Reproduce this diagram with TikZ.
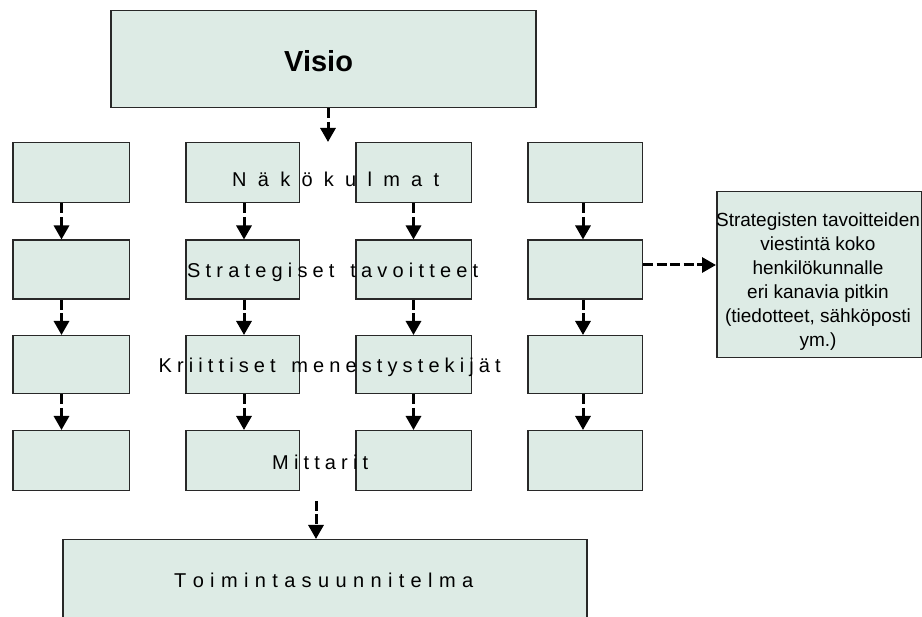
\documentclass[tikz,border=0pt]{standalone}
\usepackage{fontspec}
\setmainfont{Liberation Sans}
\usetikzlibrary{arrows.meta}
\definecolor{boxfill}{RGB}{221,235,229}
\definecolor{boxline}{RGB}{40,40,40}
\makeatletter
\newcommand\spreadtext[2]{\makebox[#1][s]{\spread@b#2\relax}}
\def\spread@b#1{#1\spread@a}
\def\spread@a#1{\ifx\relax#1\else\hfil#1\expandafter\spread@a\fi}
\makeatother
\tikzset{
  box/.style={draw=boxline, fill=boxfill, line width=1.5pt, inner sep=0pt, anchor=north west},
  flow/.style={line width=3pt, dash pattern=on 10pt off 3.5pt, -{Triangle[width=15pt,length=14pt]}, black},
  lbl/.style={inner sep=0pt, anchor=base west, font=\fontsize{20}{24}\selectfont},
}
\begin{document}
\begin{tikzpicture}[x=1pt,y=-1pt]
\clip (0,0) rectangle (922,617);
\fill[white] (0,0) rectangle (922,617);
% top box
\node[box, minimum width=425pt, minimum height=97pt] (visio) at (110,10) {};
% grid of boxes
\node[box, minimum width=116.5pt, minimum height=60pt] (b11) at (12,142) {};
\node[box, minimum width=113.5pt, minimum height=60pt] (b12) at (185,142) {};
\node[box, minimum width=115.5pt, minimum height=60pt] (b13) at (355,142) {};
\node[box, minimum width=114.5pt, minimum height=60pt] (b14) at (527,142) {};
\node[box, minimum width=116.5pt, minimum height=59pt] (b21) at (12,239.5) {};
\node[box, minimum width=113.5pt, minimum height=59pt] (b22) at (185,239.5) {};
\node[box, minimum width=115.5pt, minimum height=59pt] (b23) at (355,239.5) {};
\node[box, minimum width=114.5pt, minimum height=59pt] (b24) at (527,239.5) {};
\node[box, minimum width=116.5pt, minimum height=58pt] (b31) at (12,335) {};
\node[box, minimum width=113.5pt, minimum height=58pt] (b32) at (185,335) {};
\node[box, minimum width=115.5pt, minimum height=58pt] (b33) at (355,335) {};
\node[box, minimum width=114.5pt, minimum height=58pt] (b34) at (527,335) {};
\node[box, minimum width=116.5pt, minimum height=60pt] (b41) at (12,430) {};
\node[box, minimum width=113.5pt, minimum height=60pt] (b42) at (185,430) {};
\node[box, minimum width=115.5pt, minimum height=60pt] (b43) at (355,430) {};
\node[box, minimum width=114.5pt, minimum height=60pt] (b44) at (527,430) {};
% bottom box
\node[box, minimum width=524pt, minimum height=100pt] (toim) at (62,539) {};
% right box
\node[box, minimum width=204.5pt, minimum height=166pt] (rbox) at (716,191) {};
% texts
\node[inner sep=0pt, anchor=base west, font=\fontsize{29}{34}\selectfont\bfseries] (tvisio) at (284,71.5) {Visio};
\node[lbl] (tnak) at (232,187) {\spreadtext{207pt}{Näkökulmat}};
\node[lbl] (tstr) at (187,277.5) {\spreadtext{291pt}{Strategiset~tavoitteet}};
\node[lbl] (tkri) at (158.5,372.3) {\spreadtext{342pt}{Kriittiset~menestystekijät}};
\node[lbl] (tmit) at (272,470) {\spreadtext{96pt}{Mittarit}};
\node[lbl] (ttoi) at (174,587) {\spreadtext{299pt}{Toimintasuunnitelma}};
\node[inner sep=0pt, anchor=north, align=center, font=\fontsize{19}{24}\selectfont] (trbox) at (818,213)
  {Strategisten tavoitteiden\\viestintä koko\\henkilökunnalle\\eri kanavia pitkin\\(tiedotteet, sähköposti\\ym.)};
% arrow columns
\coordinate (xv) at (328,0);
\coordinate (x1) at (61.5,0);
\coordinate (x2) at (244,0);
\coordinate (x3) at (413.5,0);
\coordinate (x4) at (583,0);
\coordinate (ts) at (316,501);
\coordinate (ry) at (0,265);
\draw[flow] (visio.south -| xv) -- (b12.north -| xv);
\foreach \c in {1,2,3,4}{
  \draw[flow] (b1\c.south -| x\c) -- (b2\c.north -| x\c);
  \draw[flow] (b2\c.south -| x\c) -- (b3\c.north -| x\c);
  \draw[flow] (b3\c.south -| x\c) -- (b4\c.north -| x\c);
}
\draw[flow] (ts) -- (toim.north -| ts);
\draw[flow] (b24.east |- ry) -- (rbox.west |- ry);
\end{tikzpicture}
\end{document}
